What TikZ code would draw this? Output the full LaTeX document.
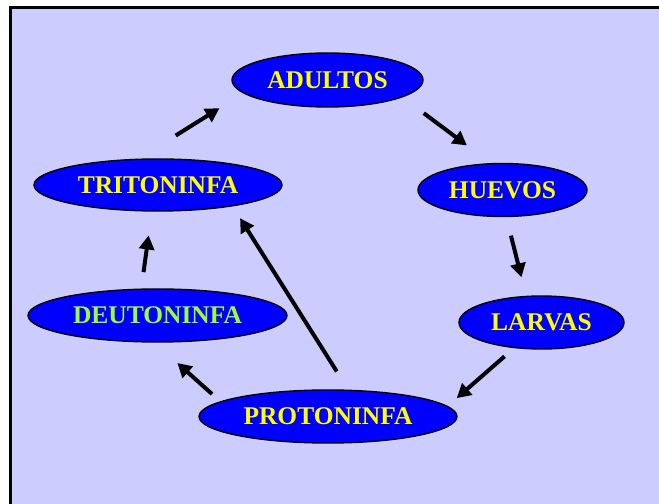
\documentclass[tikz,border=0pt]{standalone}
\usepackage{fontspec}
\setmainfont{Liberation Serif}
\usepackage{xcolor}
\usetikzlibrary{arrows.meta,shapes.geometric}

\definecolor{fondo}{RGB}{204,204,255}
\definecolor{azul}{RGB}{0,0,255}
\definecolor{amarillo}{RGB}{255,255,0}
\definecolor{verde}{RGB}{153,255,51}

\begin{document}
\begin{tikzpicture}[
      stage/.style={ellipse, draw, line width=0.8pt, fill=azul, text=amarillo, inner sep=0pt, minimum height=1.06cm, font=\fontsize{14.5}{17}\selectfont\bfseries},
      flow/.style={-{Triangle[length=0.28cm, width=0.3cm]}, line width=0.08cm}
    ]
    \useasboundingbox (0,0) rectangle (13.18,-10.08);
    \fill[white] (0,0) rectangle (13.18,-10.08);
    \draw[fill=fondo, line width=0.06cm] (0.216,-0.15) rectangle (14,-11);

    \node[stage, minimum width=3.82cm, minimum height=1.08cm] (adultos) at (6.55,-1.60) {ADULTOS};
    \node[stage, minimum width=3.38cm] (huevos) at (10.05,-3.80) {HUEVOS};
    \node[stage, minimum width=3.30cm] (larvas) at (10.83,-6.45) {LARVAS};
    \node[stage, minimum width=5.16cm] (proto) at (6.56,-8.33) {PROTONINFA};
    \node[stage, minimum width=5.18cm, text=verde] (deuto) at (3.15,-6.31) {DEUTONINFA};
    \node[stage, minimum width=4.96cm, minimum height=1.04cm] (trito) at (3.16,-3.70) {TRITONINFA};

    \draw[flow, shorten <=0.87cm, shorten >=0.56cm] (trito.126) -- (adultos.189);
    \draw[flow, shorten <=0.53cm, shorten >=0.59cm] (adultos.347) -- (huevos.114);
    \draw[flow, shorten <=0.38cm, shorten >=0.38cm] (huevos.278) -- (larvas.120);
    \draw[flow, shorten <=0.25cm, shorten >=0.24cm] (larvas.223) -- (proto.5);
    \draw[flow, shorten <=0.22cm, shorten >=0.61cm] (proto.172) -- (deuto.264);
    \draw[flow, shorten <=0.33cm, shorten >=0.48cm] (deuto.121) -- (trito.257);
    \draw[flow, shorten <=0.43cm, shorten >=0.28cm] (proto.53) -- (trito.344);
  \end{tikzpicture}
\end{document}
